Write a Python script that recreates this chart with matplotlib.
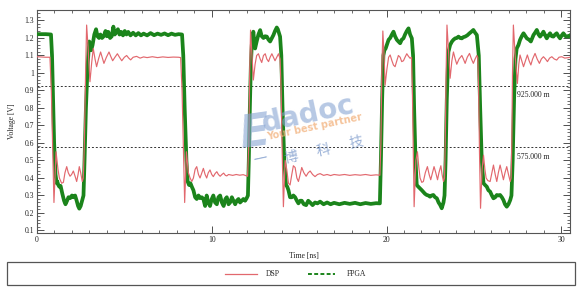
import matplotlib
matplotlib.use("Agg")
import matplotlib.pyplot as plt
from matplotlib.lines import Line2D
from matplotlib.patches import Rectangle
from matplotlib.ticker import MultipleLocator

plt.rcParams['font.family'] = ['Liberation Serif', 'DejaVu Serif']

# ---- data (time in ns, voltage in V) ----
dsp_t = [0, 0.5, 0.74, 0.82, 0.9, 0.97, 1.09, 1.2, 1.28, 1.41, 1.51, 1.60, 1.70, 1.79, 1.89, 1.98, 2.08, 2.18, 2.27, 2.35, 2.42, 2.50, 2.59, 2.65,
         2.71, 2.78, 2.84, 2.92, 3.03, 3.13, 3.22, 3.32, 3.41, 3.52, 3.64, 3.73, 3.83, 3.97, 4.12, 4.22, 4.33, 4.46, 4.60, 4.72, 4.85, 5.0, 5.13, 5.25, 5.36, 5.5, 5.7, 5.9, 6.1, 6.3, 6.6, 6.9, 7.2, 7.5, 7.8, 8.1, 8.22,
         8.30, 8.38, 8.45, 8.55, 8.66, 8.76, 8.86, 8.95, 9.05, 9.14, 9.24, 9.33, 9.43, 9.52, 9.62, 9.71, 9.80, 9.90, 10.0, 10.09, 10.19, 10.29, 10.38, 10.48, 10.58, 10.68, 10.78, 10.86, 10.96, 11.05, 11.2, 11.4, 11.6, 11.8, 12.05,
         12.12, 12.17, 12.22, 12.30, 12.38, 12.48, 12.57, 12.67, 12.77, 12.86, 12.96, 13.06, 13.15, 13.25, 13.34, 13.44, 13.53, 13.62, 13.72, 13.82, 13.91,
         13.97, 14.03, 14.10, 14.20, 14.29, 14.39, 14.48, 14.58, 14.67, 14.77, 14.87, 14.96, 15.06, 15.15, 15.27, 15.40, 15.52, 15.63, 15.77, 15.91, 16.05, 16.2, 16.4, 16.6, 16.8, 17.0, 17.3, 17.6, 17.9, 18.2, 18.5, 18.8, 19.1, 19.4, 19.62,
         19.68, 19.73, 19.79, 19.86, 19.92, 20.02, 20.12, 20.21, 20.31, 20.40, 20.49, 20.59, 20.68, 20.78, 20.87, 20.97, 21.06, 21.16, 21.26, 21.35, 21.43,
         21.48, 21.53, 21.58, 21.68, 21.77, 21.85, 21.92, 22.02, 22.11, 22.22, 22.34, 22.44, 22.53, 22.63, 22.72, 22.82, 22.92, 23.0, 23.11, 23.18, 23.26, 23.32,
         23.36, 23.41, 23.46, 23.55, 23.64, 23.74, 23.83, 23.93, 24.02, 24.15, 24.31, 24.40, 24.50, 24.62, 24.75, 24.86, 24.97, 25.07, 25.17, 25.22,
         25.27, 25.32, 25.38, 25.47, 25.55, 25.63, 25.70, 25.80, 25.93, 26.03, 26.12, 26.22, 26.31, 26.40, 26.50, 26.60, 26.69, 26.78, 26.88, 26.98, 27.08, 27.13,
         27.17, 27.21, 27.26, 27.36, 27.49, 27.57, 27.64, 27.74, 27.84, 27.95, 28.06, 28.16, 28.26, 28.36, 28.50, 28.62, 28.75, 28.86, 28.98, 29.10, 29.21, 29.33, 29.46, 29.6, 29.74, 29.87, 30.03, 30.2, 30.41, 30.5]
dsp_v = [1.093, 1.09, 1.09, 0.9, 0.55, 0.26, 0.55, 0.45, 0.40, 0.37, 0.375, 0.43, 0.465, 0.43, 0.41, 0.42, 0.44, 0.41, 0.38, 0.42, 0.465, 0.43, 0.38, 0.40,
         0.6, 1.0, 1.274, 1.15, 0.95, 1.06, 1.14, 1.08, 1.036, 1.08, 1.12, 1.09, 1.055, 1.09, 1.12, 1.095, 1.07, 1.09, 1.11, 1.09, 1.07, 1.09, 1.10, 1.085, 1.075, 1.09, 1.095, 1.085, 1.092, 1.088, 1.093, 1.088, 1.092, 1.089, 1.091, 1.09, 1.088,
         0.9, 0.55, 0.26, 0.55, 0.43, 0.40, 0.38, 0.40, 0.45, 0.465, 0.42, 0.40, 0.43, 0.455, 0.42, 0.40, 0.43, 0.446, 0.42, 0.408, 0.425, 0.436, 0.42, 0.41, 0.42, 0.428, 0.415, 0.412, 0.42, 0.418, 0.415, 0.42, 0.416, 0.419, 0.41,
         0.6, 1.0, 1.245, 1.10, 0.96, 1.05, 1.10, 1.11, 1.08, 1.06, 1.10, 1.11, 1.08, 1.065, 1.09, 1.11, 1.09, 1.07, 1.09, 1.11, 1.08,
         0.9, 0.55, 0.236, 0.50, 0.45, 0.37, 0.36, 0.42, 0.47, 0.46, 0.40, 0.38, 0.42, 0.46, 0.43, 0.41, 0.43, 0.44, 0.42, 0.408, 0.42, 0.425, 0.415, 0.42, 0.414, 0.42, 0.416, 0.42, 0.415, 0.419, 0.416, 0.42, 0.415, 0.418, 0.416,
         0.6, 1.0, 1.24, 1.10, 0.93, 1.02, 1.09, 1.103, 1.07, 1.045, 1.036, 1.07, 1.10, 1.09, 1.065, 1.07, 1.09, 1.11, 1.095, 1.084, 1.09,
         0.9, 0.55, 0.236, 0.50, 0.55, 0.46, 0.40, 0.375, 0.38, 0.43, 0.465, 0.42, 0.39, 0.43, 0.465, 0.43, 0.39, 0.43, 0.47, 0.42, 0.38, 0.40,
         0.6, 1.0, 1.274, 1.12, 0.97, 1.07, 1.12, 1.08, 1.05, 1.08, 1.10, 1.08, 1.055, 1.09, 1.112, 1.08, 1.055, 1.08, 1.10, 1.09,
         0.9, 0.55, 0.227, 0.45, 0.53, 0.45, 0.40, 0.385, 0.38, 0.43, 0.474, 0.42, 0.38, 0.43, 0.474, 0.43, 0.39, 0.43, 0.465, 0.42, 0.38, 0.40,
         0.6, 1.0, 1.274, 1.10, 0.94, 1.05, 1.103, 1.07, 1.036, 1.07, 1.103, 1.07, 1.046, 1.08, 1.112, 1.08, 1.055, 1.08, 1.093, 1.08, 1.065, 1.085, 1.093, 1.08, 1.074, 1.09, 1.093, 1.085, 1.088, 1.09]

fpga_t = [0, 0.5, 0.80, 0.86, 0.92, 0.98, 1.06, 1.13, 1.16, 1.22, 1.28, 1.35, 1.45, 1.55, 1.63, 1.72, 1.80, 1.90, 2.0, 2.08, 2.18, 2.27, 2.35, 2.42, 2.50, 2.58, 2.66,
          2.72, 2.80, 2.90, 2.99, 3.05, 3.10, 3.18, 3.28, 3.38, 3.46, 3.55, 3.63, 3.72, 3.82, 3.92, 4.0, 4.08, 4.18, 4.28, 4.37, 4.45, 4.55, 4.63, 4.72, 4.82, 4.92, 5.02, 5.12, 5.22, 5.35, 5.5, 5.65, 5.8, 5.95, 6.1, 6.3, 6.5, 6.7, 6.9, 7.1, 7.3, 7.5, 7.7, 7.9, 8.1, 8.3,
          8.37, 8.45, 8.55, 8.62, 8.70, 8.78, 8.86, 8.95, 9.05, 9.14, 9.24, 9.33, 9.43, 9.52, 9.62, 9.71, 9.80, 9.90, 10.0, 10.09, 10.19, 10.29, 10.38, 10.48, 10.58, 10.68, 10.78, 10.86, 10.96, 11.05, 11.15, 11.24, 11.34, 11.43, 11.53, 11.62, 11.72, 11.81, 11.91, 12.0, 12.07,
          12.12, 12.18, 12.24, 12.29, 12.34, 12.38, 12.43, 12.48, 12.57, 12.67, 12.77, 12.86, 12.96, 13.05, 13.15, 13.25, 13.34, 13.44, 13.53, 13.62, 13.72, 13.78, 13.91,
          13.98, 14.05, 14.15, 14.25, 14.32, 14.39, 14.48, 14.58, 14.67, 14.77, 14.87, 14.96, 15.06, 15.15, 15.27, 15.40, 15.52, 15.63, 15.77, 15.91, 16.05, 16.2, 16.4, 16.6, 16.8, 17.0, 17.3, 17.6, 17.9, 18.2, 18.5, 18.8, 19.1, 19.4, 19.62,
          19.68, 19.75, 19.82, 19.88, 19.95, 20.02, 20.12, 20.21, 20.31, 20.40, 20.49, 20.59, 20.68, 20.78, 20.87, 20.97, 21.06, 21.16, 21.26, 21.35, 21.45,
          21.52, 21.58, 21.66, 21.73, 21.82, 21.92, 22.02, 22.11, 22.20, 22.30, 22.40, 22.49, 22.58, 22.68, 22.78, 22.88, 22.98, 23.07, 23.16, 23.26, 23.32,
          23.38, 23.45, 23.54, 23.64, 23.74, 23.83, 23.93, 24.02, 24.12, 24.21, 24.31, 24.40, 24.50, 24.62, 24.75, 24.86, 24.97, 25.07, 25.17,
          25.28, 25.36, 25.45, 25.55, 25.64, 25.74, 25.83, 25.93, 26.03, 26.12, 26.22, 26.31, 26.40, 26.50, 26.60, 26.69, 26.78, 26.88, 26.98, 27.08, 27.15,
          27.22, 27.30, 27.38, 27.45, 27.55, 27.64, 27.74, 27.84, 27.95, 28.03, 28.16, 28.26, 28.41, 28.50, 28.60, 28.70, 28.79, 28.88, 28.98, 29.08, 29.17, 29.27, 29.36, 29.46, 29.55, 29.65, 29.74, 29.84, 29.93, 30.03, 30.12, 30.25, 30.41, 30.5]
fpga_v = [1.222, 1.222, 1.22, 1.1, 0.85, 0.6, 0.42, 0.37, 0.38, 0.36, 0.35, 0.355, 0.31, 0.27, 0.25, 0.27, 0.29, 0.285, 0.30, 0.29, 0.30, 0.27, 0.24, 0.225, 0.24, 0.27, 0.30,
          0.5, 0.8, 1.05, 1.18, 1.15, 1.13, 1.16, 1.22, 1.25, 1.21, 1.20, 1.22, 1.20, 1.21, 1.24, 1.21, 1.235, 1.20, 1.21, 1.265, 1.22, 1.235, 1.25, 1.22, 1.235, 1.215, 1.24, 1.22, 1.235, 1.215, 1.23, 1.215, 1.228, 1.215, 1.225, 1.215, 1.228, 1.216, 1.225, 1.218, 1.226, 1.216, 1.225, 1.218, 1.222, 1.22,
          1.1, 0.8, 0.5, 0.38, 0.36, 0.37, 0.35, 0.33, 0.29, 0.28, 0.30, 0.285, 0.29, 0.28, 0.24, 0.30, 0.26, 0.24, 0.28, 0.30, 0.26, 0.25, 0.29, 0.30, 0.26, 0.24, 0.28, 0.29, 0.25, 0.26, 0.29, 0.27, 0.25, 0.27, 0.28, 0.26, 0.27, 0.28, 0.27, 0.285, 0.30,
          0.5, 0.8, 1.05, 1.16, 1.20, 1.236, 1.18, 1.14, 1.18, 1.22, 1.245, 1.21, 1.20, 1.21, 1.208, 1.19, 1.18, 1.20, 1.217, 1.24, 1.26, 1.25, 1.208,
          1.1, 0.8, 0.5, 0.36, 0.35, 0.33, 0.29, 0.29, 0.30, 0.29, 0.27, 0.255, 0.27, 0.27, 0.25, 0.245, 0.27, 0.26, 0.245, 0.26, 0.255, 0.265, 0.25, 0.26, 0.25, 0.258, 0.25, 0.258, 0.252, 0.258, 0.25, 0.257, 0.252, 0.256, 0.255,
          0.5, 0.85, 1.1, 1.13, 1.14, 1.16, 1.19, 1.20, 1.22, 1.236, 1.21, 1.19, 1.18, 1.17, 1.19, 1.198, 1.22, 1.24, 1.255, 1.22, 1.198,
          1.1, 0.8, 0.5, 0.36, 0.35, 0.34, 0.33, 0.32, 0.31, 0.303, 0.30, 0.293, 0.30, 0.303, 0.29, 0.284, 0.26, 0.246, 0.227, 0.26, 0.30,
          0.5, 0.85, 1.12, 1.16, 1.179, 1.19, 1.198, 1.20, 1.208, 1.20, 1.198, 1.205, 1.208, 1.215, 1.227, 1.236, 1.246, 1.23, 1.217,
          1.1, 0.8, 0.5, 0.37, 0.36, 0.35, 0.33, 0.322, 0.30, 0.284, 0.29, 0.303, 0.30, 0.303, 0.29, 0.274, 0.25, 0.236, 0.25, 0.274, 0.30,
          0.5, 0.85, 1.08, 1.14, 1.16, 1.189, 1.21, 1.227, 1.21, 1.198, 1.19, 1.18, 1.217, 1.23, 1.246, 1.22, 1.208, 1.22, 1.236, 1.215, 1.198, 1.215, 1.227, 1.21, 1.208, 1.22, 1.227, 1.21, 1.198, 1.215, 1.227, 1.21, 1.208, 1.215]

series_names = ['DSP', 'FPGA']
marker_levels = [0.925, 0.575]
marker_labels = ['925.000 m', '575.000 m']
x_ticks = [0, 10, 20, 30]
y_ticks = [0.1, 0.2, 0.3, 0.4, 0.5, 0.6, 0.7, 0.8, 0.9, 1.0, 1.1, 1.2, 1.3]
y_tick_labels = ['0.1', '0.2', '0.3', '0.4', '0.5', '0.6', '0.7', '0.8', '0.9', '1', '1.1', '1.2', '1.3']
wm_chars = ['一', '博', '科', '技']

DSP_COLOR = '#e2686e'
FPGA_COLOR = '#1b841b'

W, H = 582, 290
fig = plt.figure(figsize=(W / 100, H / 100), dpi=100)
fig.patch.set_facecolor('white')
ax = fig.add_axes([37 / W, 1 - 233 / H, (570 - 37) / W, (233 - 10) / H])

ax.plot(fpga_t, fpga_v, color=FPGA_COLOR, lw=2.7, solid_joinstyle='round', zorder=3)
ax.plot(dsp_t, dsp_v, color=DSP_COLOR, lw=0.85, zorder=4)

for lvl, lab in zip(marker_levels, marker_labels):
    ax.axhline(lvl, color='#333333', lw=0.7, ls=(0, (2, 2)), zorder=2)
    ax.text(27.45, lvl - 0.03, lab, fontsize=5.5, color='#222222', ha='left', va='top', zorder=5)

ax.set_xlim(0, 30.5)
ax.set_ylim(0.0857, 1.36)
ax.set_xticks(x_ticks)
ax.xaxis.set_minor_locator(MultipleLocator(1))
ax.set_xticklabels([str(v) for v in x_ticks])
ax.set_yticks(y_ticks)
ax.set_yticklabels(y_tick_labels)
ax.yaxis.set_minor_locator(MultipleLocator(0.02))
ax.tick_params(which='both', direction='in', top=True, right=True, labelsize=5.5, colors='#333333', labelcolor='#222222', pad=2)
ax.tick_params(which='major', length=5, width=0.6)
ax.tick_params(which='minor', length=2.5, width=0.5)
for sp in ax.spines.values():
    sp.set_color('#555555')
    sp.set_linewidth(0.8)

ax.set_xlabel('Time [ns]', fontsize=5.5, color='#222222', labelpad=6)
ax.set_ylabel('Voltage [V]', fontsize=5.5, color='#222222', labelpad=6)

# legend box
fig.patches.append(Rectangle((7 / W, 1 - 285 / H), (575 - 7) / W, 23 / H, transform=fig.transFigure,
                             facecolor='white', edgecolor='#555555', lw=0.9))
ly = 1 - 274 / H
fig.lines.append(Line2D([225 / W, 257 / W], [ly, ly], transform=fig.transFigure, color=DSP_COLOR, lw=0.9))
fig.text(266 / W, ly, series_names[0], fontsize=5.5, va='center', ha='left', color='#222222')
fig.lines.append(Line2D([308 / W, 335 / W], [ly, ly], transform=fig.transFigure, color=FPGA_COLOR, lw=1.4, ls=(0, (2, 1.2))))
fig.text(347 / W, ly, series_names[1], fontsize=5.5, va='center', ha='left', color='#222222')

# watermark
WM_BLUE = '#86a4d2'
fig.text(236 / W, 1 - 148 / H, 'E', fontsize=32, color=WM_BLUE, alpha=0.6, family=['DejaVu Sans'],
         fontweight='bold', style='italic', rotation=8, ha='left', va='baseline', zorder=10)
fig.text(259 / W, 1 - 132 / H, 'dadoc', fontsize=20, color=WM_BLUE, alpha=0.6, family=['DejaVu Sans'],
         fontweight='bold', rotation=12, ha='left', va='baseline', zorder=10)
fig.text(266 / W, 1 - 140 / H, 'Your best partner', fontsize=7, color='#f2b07a', alpha=0.75, family=['DejaVu Sans'],
         fontweight='bold', rotation=12, ha='left', va='baseline', zorder=10)
for ch, cx, cy in zip(wm_chars, [252, 283, 315, 348], [165, 163, 156, 148]):
    fig.text(cx / W, 1 - cy / H, ch, fontsize=10, color='#6f90c6', alpha=0.7,
             family=['Noto Sans CJK SC', 'DejaVu Sans'], rotation=12, ha='left', va='baseline', zorder=10)

fig.savefig('out.png', dpi=100, facecolor='white')
